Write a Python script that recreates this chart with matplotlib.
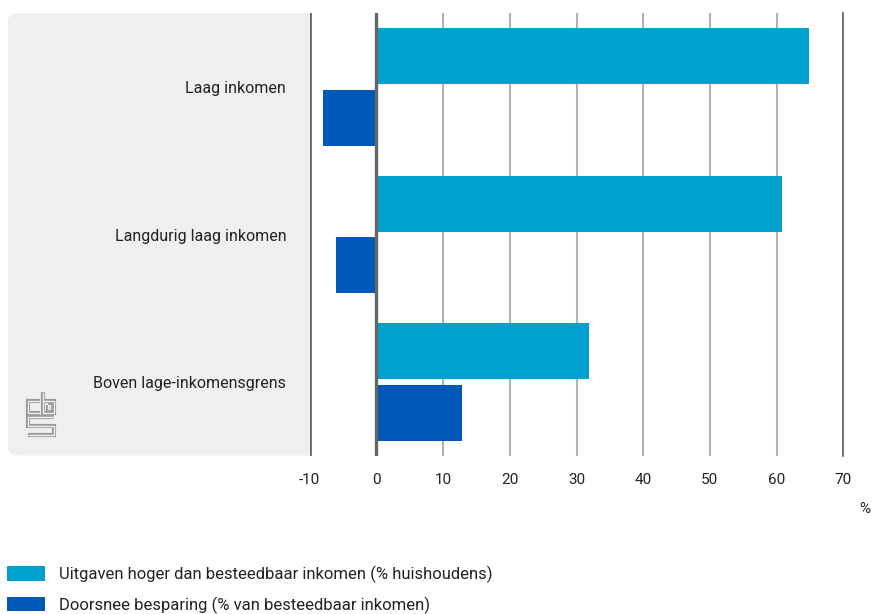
import matplotlib
matplotlib.use("Agg")
import matplotlib.pyplot as plt
from matplotlib.patches import FancyBboxPatch
from matplotlib.lines import Line2D
import numpy as np

categories = ["Laag inkomen", "Langdurig laag inkomen", "Boven lage-inkomensgrens"]
uitgaven_hoger = [64.8, 60.8, 31.8]
doorsnee_besparing = [-8.0, -6.1, 12.9]
series_labels = ["Uitgaven hoger dan besteedbaar inkomen (% huishoudens)",
                 "Doorsnee besparing (% van besteedbaar inkomen)"]
x_ticks = [-10, 0, 10, 20, 30, 40, 50, 60, 70]

C_LIGHT = "#00A1CD"
C_DARK = "#0058B8"
TXT = "#222222"

plt.rcParams['font.family'] = ['Roboto', 'DejaVu Sans']

W, H = 872, 614
fig = plt.figure(figsize=(W / 100, H / 100), dpi=100)

def fx(px):
    return px / W

def fy(py):
    return 1 - py / H

# axes area in pixels
ax_left, ax_right, ax_top, ax_bot = 309.8, 843.2, 13.25, 455.75
ax = fig.add_axes([fx(ax_left), fy(ax_bot), fx(ax_right - ax_left), (ax_bot - ax_top) / H])
ax.set_facecolor("white")

# grey panel behind labels
panel = FancyBboxPatch((fx(8), fy(455.5)), fx(340 - 8), (455.5 - 13.0) / H,
                       boxstyle="round,pad=0,rounding_size=0.012",
                       transform=fig.transFigure, facecolor="#EFEFEF",
                       edgecolor="none", zorder=-5)
fig.patches.append(panel)

y = np.arange(len(categories))
h = 0.38
off = 0.208
b1 = ax.barh(y - off, uitgaven_hoger, height=h, color=C_LIGHT, zorder=3,
             label=series_labels[0])
b2 = ax.barh(y + off, doorsnee_besparing, height=h, color=C_DARK, zorder=3,
             label=series_labels[1])

ax.set_xlim(-10, 70)
ax.set_ylim(2.5, -0.5)
ax.set_xticks(x_ticks)
ax.set_xticklabels([str(t) for t in x_ticks])
ax.set_yticks(y)
ax.set_yticklabels(categories)

for t in x_ticks:
    if t == -10:
        ax.axvline(t, color="#666666", lw=2.0, zorder=1)
    elif t == 0:
        ax.axvline(t, color="#666666", lw=2.4, zorder=4)
    elif t == 70:
        ax.axvline(t, color="#555555", lw=1.2, zorder=1, clip_on=False)
    else:
        ax.axvline(t, color="#B2B2B2", lw=1.5, zorder=1)

for s in ax.spines.values():
    s.set_visible(False)
ax.tick_params(axis="both", length=0, colors=TXT)
ax.tick_params(axis="x", labelsize=11, pad=12.5)
ax.tick_params(axis="y", labelsize=11.5, pad=17)

fig.text(fx(870), fy(509), "%", ha="right", va="center", fontsize=11, color=TXT)

leg = fig.legend(handles=[b1, b2], labels=series_labels,
                 loc="upper left", bbox_to_anchor=(fx(2), fy(561)),
                 frameon=False, fontsize=12, handlelength=2.3, handleheight=1.0,
                 handletextpad=0.85, labelspacing=0.78, borderpad=0.3,
                 borderaxespad=0)
for t in leg.get_texts():
    t.set_color(TXT)

# CBS logo (decorative outline)
def logo_path(pts):
    xs = [fx(p[0]) for p in pts]
    ys = [fy(p[1]) for p in pts]
    fig.lines.append(Line2D(xs, ys, transform=fig.transFigure, color="#9A9A9A",
                            lw=3.0, solid_capstyle="butt", solid_joinstyle="miter"))
    fig.lines.append(Line2D(xs, ys, transform=fig.transFigure, color="#EFEFEF",
                            lw=1.0, solid_capstyle="butt", solid_joinstyle="miter"))

logo_path([(40, 401), (28, 401), (28, 413), (40, 413)])
logo_path([(43, 392), (43, 413), (53.5, 413), (53.5, 401), (43, 401)])
logo_path([(47.5, 405), (50, 405), (50, 409), (47.5, 409), (47.5, 405)])
logo_path([(53.5, 417), (28, 417), (28, 426), (53.5, 426), (53.5, 434.5), (28, 434.5)])

fig.savefig("out.png", dpi=100)
